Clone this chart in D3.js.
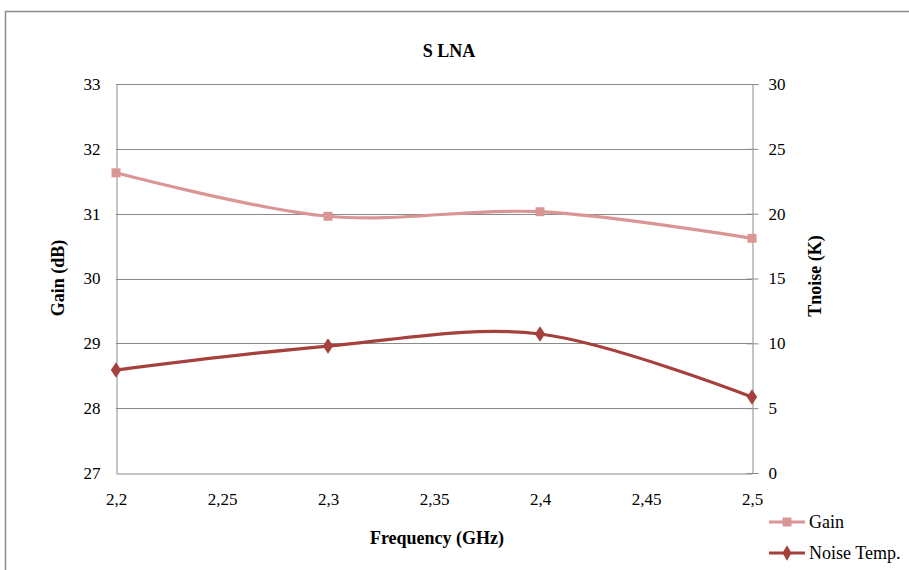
<!DOCTYPE html>
<html>
<head>
<meta charset="utf-8">
<title>S LNA</title>
<script src="https://cdn.jsdelivr.net/npm/d3@7"></script>
<style>
  body { margin: 0; background: #fff; }
  text { font-family: 'Liberation Serif', 'DejaVu Serif', serif; fill: #000; }
  .tick text { font-size: 17px; }
</style>
</head>
<body>
<div id="chart"></div>
<script>
// data
var freq = [2.2, 2.3, 2.4, 2.5];
var gain = [31.63, 30.96, 31.03, 30.62];
var noise = [7.94, 9.79, 10.72, 5.86];
var xTicks = [2.2, 2.25, 2.3, 2.35, 2.4, 2.45, 2.5];
var gainTicks = [27, 28, 29, 30, 31, 32, 33];
var noiseTicks = [0, 5, 10, 15, 20, 25, 30];
var seriesNames = ['Gain', 'Noise Temp.'];
var colours = ['#d99694', '#a5403d'];

var W = 909, H = 570;
var plot = {left: 116, top: 84, right: 752, bottom: 473};

var svg = d3.select('#chart').append('svg')
    .attr('width', W).attr('height', H);

// outer chart frame
svg.append('rect')
    .attr('x', 5.5).attr('y', 11.5)
    .attr('width', W + 20).attr('height', H + 20)
    .attr('fill', 'none').attr('stroke', '#8c8c8c').attr('stroke-width', 1.5);

var x = d3.scaleLinear().domain([2.2, 2.5]).range([plot.left, plot.right]);
var yL = d3.scaleLinear().domain([27, 33]).range([plot.bottom, plot.top]);
var yR = d3.scaleLinear().domain([0, 30]).range([plot.bottom, plot.top]);

var comma = function(d){ return String(d).replace('.', ','); };

// gridlines
svg.append('g').selectAll('line')
    .data(gainTicks.slice(1))
  .enter().append('line')
    .attr('x1', plot.left).attr('x2', plot.right)
    .attr('y1', function(d){ return Math.round(yL(d)) + 0.5; })
    .attr('y2', function(d){ return Math.round(yL(d)) + 0.5; })
    .attr('stroke', '#8a8a8a').attr('stroke-width', 1);

// axes
var gx = svg.append('g')
    .attr('transform', 'translate(0,' + (plot.bottom + 0.5) + ')')
    .call(d3.axisBottom(x).tickValues(xTicks).tickFormat(comma).tickSize(0).tickPadding(19));
var gl = svg.append('g')
    .attr('transform', 'translate(' + (plot.left + 0.5) + ',0)')
    .call(d3.axisLeft(yL).tickValues(gainTicks).tickFormat(d3.format('d')).tickSize(0).tickPadding(16));
var gr = svg.append('g')
    .attr('transform', 'translate(' + (plot.right + 0.5) + ',0)')
    .call(d3.axisRight(yR).tickValues(noiseTicks).tickSize(6).tickPadding(10));

[gx, gl, gr].forEach(function(g){
  g.select('.domain').attr('stroke', '#8a8a8a');
  g.selectAll('.tick line').attr('stroke', '#8a8a8a');
  g.selectAll('.tick text').attr('fill', '#000');
});
gr.selectAll('.tick line').attr('x1', -6);

// lines
var lineL = d3.line()
    .x(function(d, i){ return x(freq[i]); })
    .y(function(d){ return yL(d); })
    .curve(d3.curveCardinal.tension(0));
var lineR = d3.line()
    .x(function(d, i){ return x(freq[i]); })
    .y(function(d){ return yR(d); })
    .curve(d3.curveCardinal.tension(0));

svg.append('path').datum(gain)
    .attr('d', lineL).attr('fill', 'none')
    .attr('stroke', colours[0]).attr('stroke-width', 3.2);
svg.append('path').datum(noise)
    .attr('d', lineR).attr('fill', 'none')
    .attr('stroke', colours[1]).attr('stroke-width', 3.2);

var square = d3.symbol().type(d3.symbolSquare).size(80);
var diamond = d3.symbol().type(d3.symbolDiamond).size(70);

svg.append('g').selectAll('path')
    .data(gain)
  .enter().append('path')
    .attr('d', square)
    .attr('transform', function(d, i){ return 'translate(' + x(freq[i]) + ',' + yL(d) + ')'; })
    .attr('fill', colours[0]);
svg.append('g').selectAll('path')
    .data(noise)
  .enter().append('path')
    .attr('d', diamond)
    .attr('transform', function(d, i){ return 'translate(' + x(freq[i]) + ',' + yR(d) + ') scale(1.15,1)'; })
    .attr('fill', colours[1]);

// titles
svg.append('text')
    .attr('x', 449).attr('y', 57)
    .attr('text-anchor', 'middle')
    .style('font-size', '18px').style('font-weight', 'bold')
    .text('S LNA');
svg.append('text')
    .attr('x', 437).attr('y', 544)
    .attr('text-anchor', 'middle')
    .style('font-size', '18px').style('font-weight', 'bold')
    .text('Frequency (GHz)');
svg.append('text')
    .attr('transform', 'translate(64,278) rotate(-90)')
    .attr('text-anchor', 'middle')
    .style('font-size', '18px').style('font-weight', 'bold')
    .text('Gain (dB)');
svg.append('text')
    .attr('transform', 'translate(821,276) rotate(-90)')
    .attr('text-anchor', 'middle')
    .style('font-size', '18px').style('font-weight', 'bold')
    .text('Tnoise (K)');

// legend
var legend = svg.append('g').selectAll('g')
    .data(seriesNames)
  .enter().append('g')
    .attr('transform', function(d, i){ return 'translate(769,' + (522 + i * 31) + ')'; });
legend.append('line')
    .attr('x1', 0).attr('x2', 36)
    .attr('stroke', function(d, i){ return colours[i]; })
    .attr('stroke-width', 3.2);
legend.append('path')
    .attr('d', function(d, i){ return i === 0 ? square() : diamond(); })
    .attr('transform', 'translate(18,0)')
    .attr('fill', function(d, i){ return colours[i]; });
legend.append('text')
    .attr('x', 40).attr('y', 6)
    .style('font-size', '18px')
    .text(function(d){ return d; });
</script>
</body>
</html>
